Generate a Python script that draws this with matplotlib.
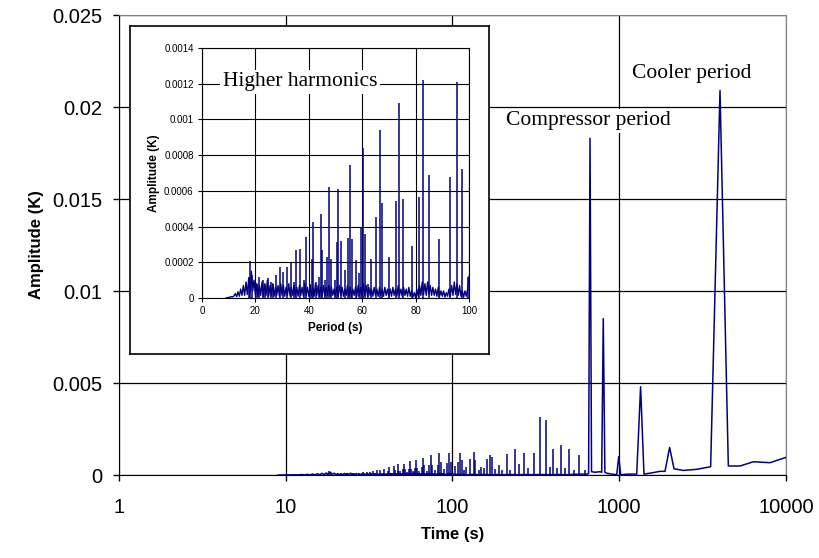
import numpy as np
import matplotlib.pyplot as plt

plt.rcParams['font.family'] = ['Liberation Sans', 'DejaVu Sans']

navy = '#000080'
AMP_UNIT = 1e-5  # all amplitudes below are in units of 10 uK

# harmonic spikes (period in s)
harm_period = [17.6, 18.1, 18.8, 20.5, 21.5, 22.9, 23.5, 24.8, 25.7, 26.5,
               27.6, 29.1, 30.5, 32.0, 33.2, 34.5, 35.3, 36.8, 38.1, 39.1,
               40.3, 41.1, 41.7, 42.6, 43.8, 44.4, 45.1, 46.2, 46.8, 47.4,
               48.2, 49.7, 50.6, 51.1, 51.9, 53.4, 54.6, 55.3, 56.2, 57.8,
               59.0, 59.6, 60.3, 61.2, 62.2, 63.4, 65.3, 66.8, 67.5, 70.0,
               72.5, 73.9, 75.4, 78.5, 81.4, 82.9, 85.1, 88.9, 92.8, 95.4,
               97.4, 99.8]
harm_amp = [12, 20.5, 13, 8, 12, 10, 8, 11, 9, 8,
            13, 17.5, 14.4, 17.5, 19.4, 9, 26.8, 27.6, 10, 34.3,
            8, 21.6, 42.7, 9, 12, 47, 27, 10, 23, 62,
            22, 10, 31.5, 61, 32, 15.7, 33.7, 74.7, 33, 21.2,
            14, 39, 84, 35.6, 8, 21.8, 45.5, 94, 53.3, 23.1,
            54.2, 109, 55.2, 29.3, 56.5, 122, 69, 33, 68, 121,
            72, 12]

# spikes between 100 s and 600 s
mid_period = [104, 108, 111, 114, 118, 121, 128, 134, 137, 145,
              149, 155, 160, 168, 173, 181, 190, 199, 211, 222,
              236, 251, 268, 285, 307, 333, 366, 385, 402, 425,
              446, 472, 502, 535, 574, 620]
mid_amp = [50, 73, 121, 81, 30, 43, 87, 125, 81, 30,
           46, 40, 85, 110, 100, 35, 52, 30, 114, 28,
           139, 60, 121, 40, 121, 316, 298, 45, 139, 40,
           162, 40, 144, 30, 108, 25]

# noise floor in the inset, one reading every 0.5 s from 9 s to 100 s
noise_start = 9.0
noise_step = 0.5
noise_amp = [0, 0.2, 0.3, 0.5, 0.8, 0.6, 1.2,
             2.5, 0.8, 3.5, 1, 5, 1.5,
             7, 1.5, 9, 2,
             11, 3, 15, 4,
             10, 1.5, 8, 1, 7, 1.5,
             9, 1, 8, 1.5, 10, 1, 7, 1.5, 8, 1, 6, 1.5, 7, 1, 8, 1.5,
             7, 1, 6, 1.5, 8, 1, 6, 1.5, 7, 1, 6, 1, 7, 1.5, 6, 1, 8, 1.5, 6, 1,
             7, 1.5, 6, 1, 8, 1.5, 7, 1, 6, 1.5, 7, 1, 6, 1.5, 7, 1, 6, 1.5, 5, 1,
             6, 1, 7, 1.5, 6, 1, 5, 1.5, 7, 1, 6, 1, 5, 1.5, 6, 1, 7, 1.5, 6, 1,
             8, 1.5, 7, 1, 6, 1.5, 5, 1, 6, 1.5, 5, 1, 6, 1.5, 5, 1, 6, 1.5, 5, 1,
             5, 1, 6, 1.5, 5, 1, 7, 1.5, 5, 1, 6, 1.5, 5, 1, 6, 1, 4, 0.5, 3, 0.3,
             5, 1, 7, 1.5, 9, 2, 8, 1.5, 9, 2, 7, 1.5, 6, 1.5, 5, 1, 6, 1, 4, 1,
             4, 0.5, 3, 1, 5, 1, 7, 1.5, 9, 2, 8, 1.5, 7, 1, 4, 0.5, 4, 1, 5, 12]

# slow part of the spectrum (compressor and cooler lines), from the main plot
slow_period = [100.5, 103, 106, 110, 116, 124, 132, 142, 155, 170,
               185, 200, 220, 245, 270, 300, 340, 380, 430, 480,
               540, 600, 640, 655, 668, 682, 716, 767, 785, 802,
               820, 841, 901, 966, 993, 1020, 1135, 1273, 1343, 1407,
               1528, 1754, 1881, 2005, 2130, 2422, 2916, 3533, 4020, 4510,
               5300, 6370, 8020, 10000]
slow_amp = [3, 2, 4, 2, 3, 2, 4, 2, 3, 2,
            3, 2, 3, 2, 3, 2, 3, 2, 3, 2,
            4, 5, 5, 8, 1830, 18, 15, 18, 15, 850,
            15, 10, 5, 2, 100, 2, 5, 5, 480, 5,
            10, 20, 20, 150, 34, 25, 31, 45, 2090, 49,
            49, 72, 67, 96]

noise_period = noise_start + noise_step * np.arange(len(noise_amp))
trace_period = np.concatenate([noise_period, slow_period])
trace_amp = np.concatenate([noise_amp, slow_amp]) * AMP_UNIT
spike_period = np.array(harm_period + mid_period)
spike_amp = np.array(harm_amp + mid_amp) * AMP_UNIT

fig = plt.figure(figsize=(8.19, 5.58), dpi=100)

# main chart
ax = fig.add_axes([0.1453, 0.1487, 0.8144, 0.8244])
ax.plot(trace_period, trace_amp, color=navy, lw=1.1, zorder=3)
ax.vlines(spike_period, 0, spike_amp, color=navy, lw=1.1, zorder=3)
ax.set_xscale('log')
ax.set_xlim(1, 10000)
ax.set_ylim(0, 0.025)
ax.set_xticks([1, 10, 100, 1000, 10000])
ax.set_xticklabels(['1', '10', '100', '1000', '10000'])
ax.xaxis.set_minor_locator(plt.NullLocator())
ax.set_yticks([0, 0.005, 0.01, 0.015, 0.02, 0.025])
ax.set_yticklabels(['0', '0.005', '0.01', '0.015', '0.02', '0.025'])
ax.grid(True, color='black', lw=0.9)
ax.set_axisbelow(True)
for s in ['top', 'right']:
    ax.spines[s].set_color('#808080')
ax.tick_params(direction='out', length=4.5, width=1, labelsize=14.5)
ax.tick_params(axis='x', pad=12)
ax.tick_params(axis='y', pad=7.5)
ax.set_xlabel('Time (s)', fontsize=12, fontweight='bold', labelpad=7)
ax.set_ylabel('Amplitude (K)', fontsize=12, fontweight='bold', labelpad=6)

serif = dict(family=['Liberation Serif', 'DejaVu Serif'], fontsize=15.5)
box = dict(facecolor='white', edgecolor='none', pad=2)
ax.text(650, 0.01925, 'Compressor period', ha='center', va='center',
        bbox=box, zorder=4, **serif)
ax.text(2730, 0.0218, 'Cooler period', ha='center', va='center',
        bbox=box, zorder=4, **serif)

# white frame behind the inset
frame = fig.add_axes([0.1587, 0.3656, 0.4383, 0.5878], zorder=3)
frame.set_xticks([])
frame.set_yticks([])
for s in frame.spines.values():
    s.set_color('black')
    s.set_linewidth(1.2)

# inset: higher harmonics
ins = fig.add_axes([0.2466, 0.4659, 0.3260, 0.4480], zorder=4)
ins.plot(noise_period, np.array(noise_amp) * AMP_UNIT, color=navy, lw=1.0)
ins.vlines(harm_period, 0, np.array(harm_amp) * AMP_UNIT, color=navy, lw=1.1)
ins.set_xlim(0, 100)
ins.set_ylim(0, 0.0014)
ins.set_xticks([0, 20, 40, 60, 80, 100])
ins.set_yticks([0, 0.0002, 0.0004, 0.0006, 0.0008, 0.001, 0.0012, 0.0014])
ins.set_yticklabels(['0', '0.0002', '0.0004', '0.0006', '0.0008', '0.001',
                     '0.0012', '0.0014'])
ins.grid(True, color='black', lw=0.8)
ins.set_axisbelow(True)
for s in ins.spines.values():
    s.set_linewidth(0.8)
ins.tick_params(direction='out', length=3, width=0.8, labelsize=7, pad=3)
ins.set_xlabel('Period (s)', fontsize=8.5, fontweight='bold', labelpad=4)
ins.set_ylabel('Amplitude (K)', fontsize=8.5, fontweight='bold', labelpad=3)
ins.text(36.7, 0.00121, 'Higher harmonics', ha='center', va='center',
         bbox=box, zorder=4, **serif)

fig.savefig('out.png', dpi=100)
